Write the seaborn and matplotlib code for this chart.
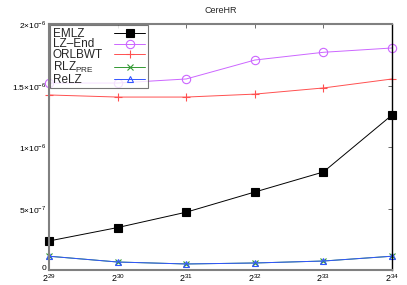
import pandas as pd
import numpy as np
import matplotlib
matplotlib.use("Agg")
import matplotlib.pyplot as plt
import matplotlib.transforms as mtransforms
import seaborn as sns

# data
exponents = [29, 30, 31, 32, 33, 34]
emlz = [2.36e-7, 3.45e-7, 4.7e-7, 6.34e-7, 7.97e-7, 1.26e-6]
lz_end = [1.52e-6, 1.52e-6, 1.553e-6, 1.707e-6, 1.77e-6, 1.805e-6]
orlbwt = [1.423e-6, 1.406e-6, 1.406e-6, 1.43e-6, 1.48e-6, 1.553e-6]
rlz_pre = [1.12e-7, 6.5e-8, 4.9e-8, 5.7e-8, 7.3e-8, 1.12e-7]
relz = [1.12e-7, 6.5e-8, 4.9e-8, 5.7e-8, 7.3e-8, 1.12e-7]

names = ["EMLZ", "LZ\u2013End", "ORLBWT", "RLZ$_\\mathrm{PRE}$", "ReLZ"]
series = [emlz, lz_end, orlbwt, rlz_pre, relz]

rows = []
for n, vals in zip(names, series):
    for e, v in zip(exponents, vals):
        rows.append({"size": 2.0 ** e, "value": v, "method": n})
df = pd.DataFrame(rows)

sns.set_style("white")
plt.rcParams["font.family"] = ["Liberation Sans", "DejaVu Sans"]
plt.rcParams["mathtext.fontset"] = "custom"
plt.rcParams["mathtext.rm"] = "Liberation Sans"

fig = plt.figure(figsize=(4.07, 2.85), dpi=100)
ax = fig.add_axes([49 / 407, 15 / 285, (392 - 49) / 407, (270 - 24) / 285])

styles = {
    "EMLZ": dict(color="black", marker="s", mfc="black", ms=5.5),
    "LZ\u2013End": dict(color="#cc66ff", marker="o", mfc="none", ms=6),
    "ORLBWT": dict(color="#ff5050", marker="+", mfc="#ff5050", ms=6),
    "RLZ$_\\mathrm{PRE}$": dict(color="#339933", marker="x", mfc="#339933", ms=5),
    "ReLZ": dict(color="#3355ff", marker="^", mfc="none", ms=5),
}

for n in names:
    st = styles[n]
    sub = df[df["method"] == n]
    sns.lineplot(data=sub, x="size", y="value", ax=ax, label=n,
                 color=st["color"], marker=st["marker"], markersize=st["ms"],
                 markerfacecolor=st["mfc"], markeredgecolor=st["color"],
                 markeredgewidth=0.8, linewidth=0.7, clip_on=False)

ax.set_xscale("log", base=2)
ax.set_xlim(2.0 ** 29, 2.0 ** 34)
ax.set_ylim(0, 2e-6)
ax.set_xticks([2.0 ** e for e in exponents])
ax.set_xticklabels(["2$^{%d}$" % e for e in exponents], fontsize=6.5)
ax.minorticks_off()
ax.set_yticks([0, 5e-7, 1e-6, 1.5e-6, 2e-6])
ax.set_yticklabels(["0", "5\u00d710$^{-7}$", "1\u00d710$^{-6}$",
                    "1.5\u00d710$^{-6}$", "2\u00d710$^{-6}$"], fontsize=6)
ax.tick_params(direction="in", length=3, width=0.6, pad=2, top=True, right=True,
               colors="#555555", labelcolor="black")
ax.tick_params(axis="x", pad=1.5)
ax.set_xlabel("")
ax.set_ylabel("")
ax.set_title("CereHR", fontsize=6.5, pad=8)

# nudge the "0" label up so it clears the 2^29 label
zero = ax.get_yticklabels()[0]
zero.set_transform(zero.get_transform() +
                   mtransforms.ScaledTranslation(0, 2 / 72, fig.dpi_scale_trans))

for s in ["left", "top", "bottom"]:
    ax.spines[s].set_color("#808080")
    ax.spines[s].set_linewidth(1.5)
ax.spines["right"].set_color("black")
ax.spines["right"].set_linewidth(1.0)

leg = ax.legend(loc="upper left", fontsize=8.5, markerfirst=False, frameon=True,
                fancybox=False, edgecolor="#555555", borderpad=0.2,
                labelspacing=-0.1, handlelength=2.6, handleheight=0.5,
                handletextpad=1.0, borderaxespad=0.1)
leg.get_frame().set_linewidth(0.8)

# left-align the labels while keeping handles in one column
fig.canvas.draw()
r = fig.canvas.get_renderer()
col = leg._legend_handle_box.get_children()[0]
items = col.get_children()
widths = [it.get_children()[0].get_bbox(r).width for it in items]
maxw = max(widths)
for it, w in zip(items, widths):
    it.sep += (maxw - w) * 72 / fig.dpi
col.align = "left"

fig.savefig("out.png", dpi=100)
